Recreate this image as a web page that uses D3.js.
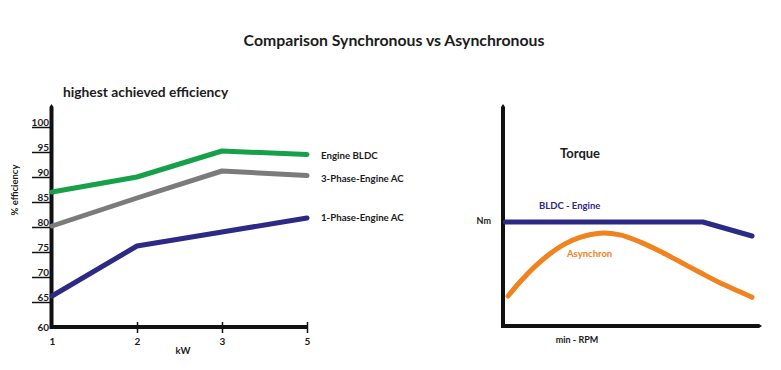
<!DOCTYPE html>
<html><head><meta charset="utf-8">
<script src="https://cdn.jsdelivr.net/npm/d3@7"></script>
<style>
body{margin:0;background:#fff;}
svg{display:block;font-family:Lato,"Open Sans",sans-serif;font-weight:bold;}
</style></head>
<body>
<svg id="c" width="781" height="370"></svg>
<script>
// ---- data ----
const categories = ["1","2","3","5"];          // kW
const yTicks = [60,65,70,75,80,85,90,95,100];   // % efficiency
const seriesNames = ["Engine BLDC","3-Phase-Engine AC","1-Phase-Engine AC"];
const bldcEff   = [87, 90, 95.2, 94.5];
const phase3Eff = [80.2, 85.8, 91.2, 90.3];
const phase1Eff = [66.2, 76.2, 79, 81.8];

// torque chart (arbitrary units 0-100)
const torqueNames = ["BLDC - Engine","Asynchron"];
const bldcRpm    = [0.5, 77.4, 96.5];
const bldcTorque = [47.5, 47.5, 41.1];
const asyncRpm    = [1.6, 6.2, 12.1, 17.9, 23.7, 29.6, 37.4, 45.1, 52.9, 60.7, 68.5, 76.3, 84.0, 91.8, 96.5];
const asyncTorque = [13.7, 20.1, 27.2, 33.0, 37.5, 40.5, 42.4, 41.6, 38.4, 34.1, 29.3, 24.4, 19.7, 15.6, 13.1];

const colors = {green:"#17a04a", gray:"#7b7b7b", navy:"#2d2a85", orange:"#f0821f", text:"#1c1c1c"};

const svg = d3.select("#c");

// title
svg.append("text").attr("x",394).attr("y",46).attr("text-anchor","middle")
  .attr("font-size",15.8).attr("fill",colors.text).text("Comparison Synchronous vs Asynchronous");

// ===== left chart =====
const x = d3.scalePoint().domain(categories).range([52,307]);
const y = d3.scaleLinear().domain([60,100]).range([327,127]);

svg.append("text").attr("x",63).attr("y",97).attr("font-size",13.8).attr("fill",colors.text)
  .text("highest achieved efficiency");

// y axis ticks
const ya = svg.append("g").attr("transform","translate(52,0)")
  .call(d3.axisLeft(y).tickValues(yTicks).tickSize(20).tickSizeOuter(0));
ya.select(".domain").remove();
ya.selectAll(".tick line").attr("stroke","#111").attr("stroke-width",1.5)
  .attr("display",d=>d===60?"none":null);
ya.selectAll(".tick text").attr("x",-3).attr("dy",d=>d===60?"0.3em":"-2")
  .attr("font-size",10).attr("font-family","Lato").attr("font-weight","bold").attr("fill",colors.text);

// x axis ticks
const xa = svg.append("g").attr("transform","translate(0,327)")
  .call(d3.axisBottom(x).tickSize(6).tickSizeOuter(0));
xa.select(".domain").remove();
xa.selectAll(".tick line").attr("y1",-5).attr("stroke","#111").attr("stroke-width",1.5)
  .attr("display",d=>d==="1"?"none":null);
xa.selectAll(".tick text").attr("y",18).attr("dy",0)
  .attr("font-size",10).attr("font-family","Lato").attr("font-weight","bold").attr("fill",colors.text);

// axis lines
svg.append("path").attr("d","M51.5,329V107").attr("stroke","#111").attr("stroke-width",4).attr("fill","none");
svg.append("path").attr("d","M49.5,107 L51.5,104 L53.5,107Z").attr("fill","#111");
svg.append("path").attr("d","M50,327H307").attr("stroke","#111").attr("stroke-width",4).attr("fill","none");

svg.append("text").attr("transform","translate(18,190) rotate(-90)").attr("text-anchor","middle")
  .attr("font-size",9.5).attr("fill",colors.text).text("% efficiency");
svg.append("text").attr("x",183).attr("y",354).attr("text-anchor","middle")
  .attr("font-size",9.5).attr("fill",colors.text).text("kW");

const line = d3.line().x((d,i)=>x(categories[i])).y(d=>y(d));
const series = [
  {name:seriesNames[0], vals:bldcEff, color:colors.green, ly:159},
  {name:seriesNames[1], vals:phase3Eff, color:colors.gray, ly:182},
  {name:seriesNames[2], vals:phase1Eff, color:colors.navy, ly:221}
];
series.forEach(s=>{
  svg.append("path").datum(s.vals).attr("d",line).attr("fill","none")
    .attr("stroke",s.color).attr("stroke-width",5).attr("stroke-linecap","round").attr("stroke-linejoin","round");
  svg.append("text").attr("x",321).attr("y",s.ly).attr("font-size",9.7).attr("fill",colors.text).text(s.name);
});

// ===== right chart =====
const x2 = d3.scaleLinear().domain([0,100]).range([504,761]);
const y2 = d3.scaleLinear().domain([0,100]).range([326,107]);

svg.append("path").attr("d","M503,328V107").attr("stroke","#111").attr("stroke-width",4).attr("fill","none");
svg.append("path").attr("d","M501,107 L503,104 L505,107Z").attr("fill","#111");
svg.append("path").attr("d","M501,326H759").attr("stroke","#111").attr("stroke-width",4).attr("fill","none");
svg.append("path").attr("d","M759,324 L762,326 L759,328Z").attr("fill","#111");

svg.append("text").attr("x",560).attr("y",158).attr("font-size",13).attr("fill",colors.text).text("Torque");
svg.append("text").attr("x",491).attr("y",224).attr("text-anchor","end").attr("font-size",9).attr("fill",colors.text).text("Nm");
svg.append("text").attr("x",577).attr("y",343).attr("text-anchor","middle").attr("font-size",9).attr("fill",colors.text).text("min - RPM");

const lb = d3.line().x((d,i)=>x2(bldcRpm[i])).y(d=>y2(d));
svg.append("path").datum(bldcTorque).attr("d",lb).attr("fill","none").attr("stroke",colors.navy)
  .attr("stroke-width",5).attr("stroke-linecap","round").attr("stroke-linejoin","round");
const la = d3.line().x((d,i)=>x2(asyncRpm[i])).y(d=>y2(d)).curve(d3.curveCatmullRom.alpha(0.5));
svg.append("path").datum(asyncTorque).attr("d",la).attr("fill","none").attr("stroke",colors.orange)
  .attr("stroke-width",5).attr("stroke-linecap","round").attr("stroke-linejoin","round");

svg.append("text").attr("x",539).attr("y",209).attr("font-size",9.5).attr("fill",colors.navy).text(torqueNames[0]);
svg.append("text").attr("x",567).attr("y",257).attr("font-size",9.5).attr("fill",colors.orange).text(torqueNames[1]);
</script>
</body></html>
